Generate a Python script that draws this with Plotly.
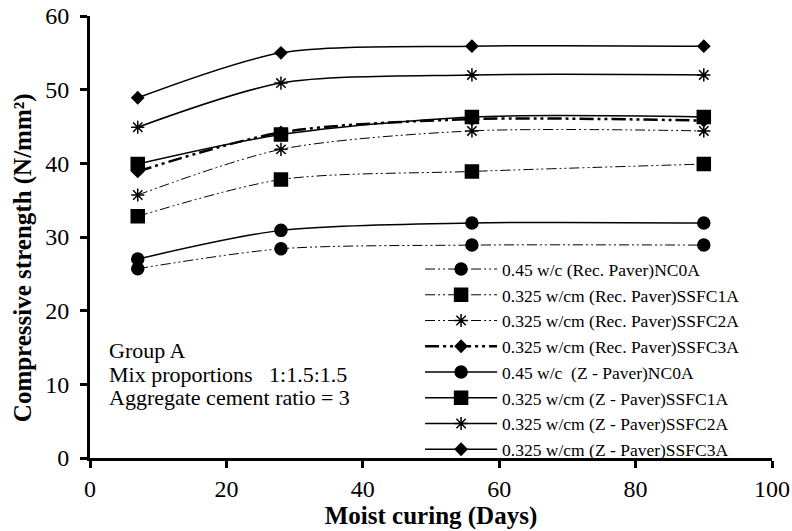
import plotly.graph_objects as go

days = [7, 28, 56, 90]

series_names = [
    "0.45 w/c (Rec. Paver)NC0A",
    "0.325 w/cm (Rec. Paver)SSFC1A",
    "0.325 w/cm (Rec. Paver)SSFC2A",
    "0.325 w/cm (Rec. Paver)SSFC3A",
    "0.45 w/c\u00a0\u00a0(Z - Paver)NC0A",
    "0.325 w/cm (Z - Paver)SSFC1A",
    "0.325 w/cm (Z - Paver)SSFC2A",
    "0.325 w/cm (Z - Paver)SSFC3A",
]

rec_nc0a = [25.7, 28.4, 28.9, 28.9]
rec_ssfc1a = [32.8, 37.8, 38.9, 39.9]
rec_ssfc2a = [35.7, 41.9, 44.4, 44.4]
rec_ssfc3a = [38.9, 44.2, 46.0, 45.8]
z_nc0a = [27.0, 30.9, 31.9, 31.9]
z_ssfc1a = [39.9, 43.9, 46.3, 46.3]
z_ssfc2a = [44.9, 50.9, 52.0, 52.0]
z_ssfc3a = [48.9, 55.0, 55.9, 55.9]

values = [rec_nc0a, rec_ssfc1a, rec_ssfc2a, rec_ssfc3a,
          z_nc0a, z_ssfc1a, z_ssfc2a, z_ssfc3a]

x_title = "Moist curing (Days)"
y_title = "Compressive strength (N/mm²)"
notes = ["Group A", "Mix proportions\u00a0\u00a0\u00a01:1.5:1.5", "Aggregate cement ratio = 3"]

symbols = ["circle", "square", "asterisk-open", "diamond",
           "circle", "square", "asterisk-open", "diamond"]
sizes = [12, 13, 11, 9, 12, 13, 11, 9]
dash_thin = "10px,3px,2px,3px,2px,3px"
dash_thick = "14px,4px,3px,4px,3px,4px"
dashes = [dash_thin, dash_thin, dash_thin, dash_thick,
          "solid", "solid", "solid", "solid"]
widths = [1, 1, 1, 2.5, 1.5, 1.5, 1.5, 1.5]

FONT = "Liberation Serif"

fig = go.Figure()
for name, vals, sym, sz, dsh, w in zip(series_names, values, symbols, sizes, dashes, widths):
    fig.add_trace(go.Scatter(
        x=days, y=vals, name=name, mode="lines+markers",
        line=dict(color="black", width=w, dash=dsh, shape="spline", smoothing=0.8),
        marker=dict(symbol=sym, size=sz, color="black",
                    line=dict(color="black", width=1.5)),
    ))

fig.update_layout(
    width=792, height=531,
    margin=dict(l=90, r=20, t=16, b=73, autoexpand=False),
    paper_bgcolor="white", plot_bgcolor="white",
    font=dict(family=FONT, color="black"),
    showlegend=True,
    legend=dict(
        x=0.484, y=0.468, xanchor="left", yanchor="top",
        bgcolor="rgba(0,0,0,0)", borderwidth=0,
        font=dict(family=FONT, size=17.5, color="black"),
        itemwidth=72, tracegroupgap=0,
    ),
    xaxis=dict(
        range=[0, 100], dtick=20, tick0=0, automargin=False,
        showline=True, linecolor="black", linewidth=3,
        ticks="outside", ticklen=7, tickwidth=3, tickcolor="black",
        showgrid=False, zeroline=False,
        tickfont=dict(family=FONT, size=24, color="black"),
        title=dict(text="<b>" + x_title + "</b>",
                   font=dict(family=FONT, size=25, color="black"), standoff=2),
    ),
    yaxis=dict(
        range=[0, 60], dtick=10, tick0=0, automargin=False,
        showline=True, linecolor="black", linewidth=3,
        ticks="outside", ticklen=7, tickwidth=3, tickcolor="black",
        ticklabelstandoff=6,
        showgrid=False, zeroline=False,
        tickfont=dict(family=FONT, size=24, color="black"),
    ),
)

# y-axis title (placed slightly below centre, as in the reference)
fig.add_annotation(text="<b>" + y_title + "</b>", xref="paper", yref="paper",
                   x=-0.098, y=0.4525, xanchor="center", yanchor="middle",
                   textangle=-90, showarrow=False,
                   font=dict(family=FONT, size=25, color="black"))

note_y = [0.244, 0.190, 0.136]
for t, yy in zip(notes, note_y):
    fig.add_annotation(text=t, xref="paper", yref="paper", x=0.025, y=yy,
                       xanchor="left", yanchor="middle", showarrow=False,
                       font=dict(family=FONT, size=22, color="black"))

fig.write_html("out.html",
               config={"displayModeBar": False},
               post_script="document.body.style.margin='0px';"
                           "document.body.style.overflow='hidden';")
